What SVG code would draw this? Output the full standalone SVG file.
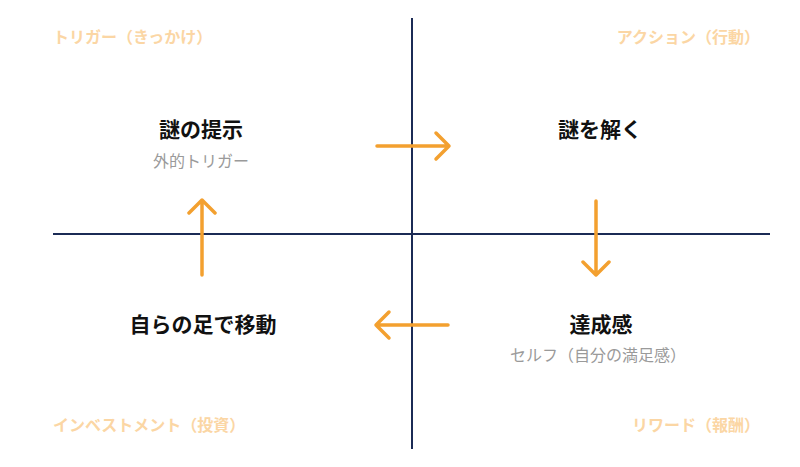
<svg xmlns="http://www.w3.org/2000/svg" width="800" height="467" viewBox="0 0 800 467">
<style>
.corner{font-family:"Noto Sans CJK JP","Noto Sans",sans-serif;font-size:16px;font-weight:bold;fill:#fbd6a4}
.title{font-family:"Noto Sans CJK JP","Noto Sans",sans-serif;font-size:21px;font-weight:bold;fill:#111}
.sub{font-family:"Noto Sans CJK JP","Noto Sans",sans-serif;font-size:16px;fill:#9a9a9a}
.axis{stroke:#1b2b55;stroke-width:2;fill:none}
.arr{stroke:#f3a02f;stroke-width:3.5;fill:none;stroke-linecap:round;stroke-linejoin:round}
</style>
<rect width="800" height="467" fill="#fff"/>
<g id="axes">
<line class="axis" x1="412" y1="18" x2="412" y2="449"/>
<line class="axis" x1="53" y1="234" x2="770" y2="234"/>
</g>
<g id="corners">
<text class="corner" x="53" y="43">トリガー（きっかけ）</text>
<text class="corner" x="760" y="43" text-anchor="end">アクション（行動）</text>
<text class="corner" x="53" y="431">インベストメント（投資）</text>
<text class="corner" x="760" y="431" text-anchor="end">リワード（報酬）</text>
</g>
<g id="node-trigger">
<text class="title" x="201" y="137" text-anchor="middle">謎の提示</text>
<text class="sub" x="201" y="167" text-anchor="middle">外的トリガー</text>
</g>
<g id="node-action">
<text class="title" x="600" y="137" text-anchor="middle">謎を解く</text>
</g>
<g id="node-reward">
<text class="title" x="601" y="332" text-anchor="middle">達成感</text>
<text class="sub" x="598" y="361" text-anchor="middle">セルフ（自分の満足感）</text>
</g>
<g id="node-investment">
<text class="title" x="203" y="332" text-anchor="middle">自らの足で移動</text>
</g>
<g id="connectors">
<path class="arr" d="M377 146H449M436 133L449 146L436 159"/>
<path class="arr" d="M596 201V275M583 262L596 275L609 262"/>
<path class="arr" d="M448 325H376M389 312L376 325L389 338"/>
<path class="arr" d="M202 275V200M189 213L202 200L215 213"/>
</g>
</svg>
